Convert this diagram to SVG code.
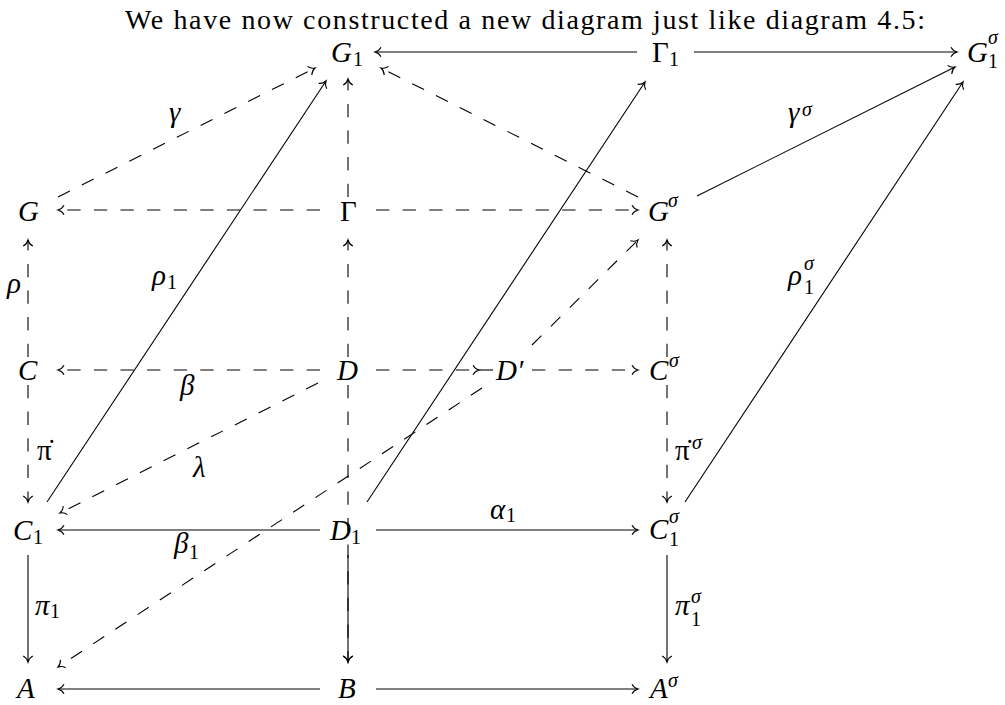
<svg xmlns="http://www.w3.org/2000/svg" width="1005" height="705" viewBox="0 0 1005 705" font-family="Liberation Serif">
<style>
.m{font-size:29px;font-style:italic;fill:#000}
.r{font-style:normal}
.s{font-size:20px;font-style:normal}
.si{font-size:20px;font-style:italic}
.e{stroke:#000;stroke-width:1.1;fill:none}
.d{stroke-dasharray:13.3 13.3}
.t{font-size:28px;fill:#000}
</style>
<defs>
<marker id="ah" markerUnits="userSpaceOnUse" markerWidth="14" markerHeight="14" viewBox="-8 -7 10 14" refX="0" refY="0" orient="auto" overflow="visible">
<path d="M-6,-4.8 C-4.5,-2 -1.5,-0.4 0,0 C-1.5,0.4 -4.5,2 -6,4.8" fill="none" stroke="#000" stroke-width="1.1"/>
</marker>
</defs>
<rect width="1005" height="705" fill="#fff"/>
<text class="t" font-family="Liberation Serif" x="125" y="29" textLength="800" lengthAdjust="spacing">We have now constructed a new diagram just like diagram 4.5:</text>

<g id="connectors">
<line class="e" x1="637" y1="52" x2="375" y2="52" marker-end="url(#ah)"/>
<line class="e" x1="694" y1="52" x2="957" y2="52" marker-end="url(#ah)"/>
<line class="e d" x1="58" y1="197" x2="315" y2="68" marker-end="url(#ah)"/>
<line class="e" x1="47" y1="502" x2="326" y2="81" marker-end="url(#ah)"/>
<line class="e d" x1="348" y1="197" x2="348" y2="79" marker-end="url(#ah)"/>
<line class="e d" x1="638" y1="197" x2="381" y2="68" marker-end="url(#ah)"/>
<line class="e" x1="367" y1="502" x2="645" y2="82" marker-end="url(#ah)"/>
<line class="e" x1="697" y1="196" x2="955" y2="67" marker-end="url(#ah)"/>
<line class="e" x1="685" y1="502" x2="963" y2="82" marker-end="url(#ah)"/>
<line class="e d" x1="320" y1="210" x2="58" y2="210" marker-end="url(#ah)"/>
<line class="e d" x1="376" y1="210" x2="638" y2="210" marker-end="url(#ah)"/>
<line class="e d" x1="28" y1="357" x2="28" y2="240" marker-end="url(#ah)"/>
<line class="e d" x1="348" y1="357" x2="348" y2="240" marker-end="url(#ah)"/>
<line class="e d" x1="532" y1="345" x2="638" y2="240" marker-end="url(#ah)"/>
<line class="e d" x1="320" y1="370" x2="58" y2="370" marker-end="url(#ah)"/>
<line class="e d" x1="376" y1="370" x2="479" y2="370" marker-end="url(#ah)"/>
<line class="e" x1="479" y1="370" x2="493" y2="370"/>
<line class="e d" x1="532" y1="370" x2="638" y2="370" marker-end="url(#ah)"/>
<line class="e d" x1="667" y1="357" x2="667" y2="240" marker-end="url(#ah)"/>
<line class="e d" x1="28" y1="385" x2="28" y2="502" marker-end="url(#ah)"/>
<line class="e d" x1="318" y1="383" x2="60" y2="513" marker-end="url(#ah)"/>
<line class="e d" x1="482" y1="388" x2="58" y2="667" marker-end="url(#ah)"/>
<line class="e d" x1="348" y1="385" x2="348" y2="662" marker-end="url(#ah)"/>
<line class="e d" x1="667" y1="385" x2="667" y2="502" marker-end="url(#ah)"/>
<line class="e" x1="28" y1="555" x2="28" y2="662" marker-end="url(#ah)"/>
<line class="e" x1="320" y1="530" x2="58" y2="530" marker-end="url(#ah)"/>
<line class="e" x1="376" y1="530" x2="638" y2="530" marker-end="url(#ah)"/>
<line class="e" x1="348" y1="555" x2="348" y2="662" marker-end="url(#ah)"/>
<line class="e" x1="320" y1="689" x2="58" y2="689" marker-end="url(#ah)"/>
<line class="e" x1="376" y1="689" x2="638" y2="689" marker-end="url(#ah)"/>
<line class="e" x1="667" y1="555" x2="667" y2="662" marker-end="url(#ah)"/>
</g>

<g id="edge-labels">
<text class="m" font-family="Liberation Serif" x="169" y="122">γ</text>
<text class="m" font-family="Liberation Serif" x="152" y="285">ρ<tspan class="s" x="167" y="289">1</tspan></text>
<text class="m" font-family="Liberation Serif" x="7" y="293">ρ</text>
<text class="m" font-family="Liberation Serif" x="180" y="395">β</text>
<text class="m r" font-family="Liberation Serif" x="37" y="460">π̇</text>
<text class="m" font-family="Liberation Serif" x="193" y="477">λ</text>
<text class="m" font-family="Liberation Serif" x="174" y="553">β<tspan class="s" x="189" y="559">1</tspan></text>
<text class="m" font-family="Liberation Serif" x="35" y="615">π<tspan class="s" x="50" y="618">1</tspan></text>
<text class="m" font-family="Liberation Serif" x="490" y="519">α<tspan class="s" x="506" y="522">1</tspan></text>
<text class="m" font-family="Liberation Serif" x="788" y="122">γ<tspan class="si" x="802" y="116">σ</tspan></text>
<text class="m" font-family="Liberation Serif" x="788" y="285">ρ<tspan class="si" x="804" y="270">σ</tspan><tspan class="s" x="804" y="294">1</tspan></text>
<text class="m r" font-family="Liberation Serif" x="675" y="460">π̇<tspan class="si" x="692" y="449">σ</tspan></text>
<text class="m" font-family="Liberation Serif" x="675" y="615">π<tspan class="si" x="691" y="603">σ</tspan><tspan class="s" x="691" y="626">1</tspan></text>
</g>

<g id="node-G1"><text class="m" font-family="Liberation Serif" x="331" y="62">G<tspan class="s" x="353" y="66">1</tspan></text></g>
<g id="node-Gamma1"><text class="m r" font-family="Liberation Serif" x="652" y="62">Γ<tspan class="s" x="669" y="66">1</tspan></text></g>
<g id="node-G1sigma"><text class="m" font-family="Liberation Serif" x="967" y="62">G<tspan class="si" x="988" y="44">σ</tspan><tspan class="s" x="988" y="68">1</tspan></text></g>
<g id="node-G"><text class="m" font-family="Liberation Serif" x="18" y="221">G</text></g>
<g id="node-Gamma"><text class="m r" font-family="Liberation Serif" x="340" y="221">Γ</text></g>
<g id="node-Gsigma"><text class="m" font-family="Liberation Serif" x="648" y="221">G<tspan class="si" x="668" y="207">σ</tspan></text></g>
<g id="node-C"><text class="m" font-family="Liberation Serif" x="18" y="380">C</text></g>
<g id="node-D"><text class="m" font-family="Liberation Serif" x="337" y="380">D</text></g>
<g id="node-Dprime"><text class="m" font-family="Liberation Serif" x="496" y="380">D′</text></g>
<g id="node-Csigma"><text class="m" font-family="Liberation Serif" x="649" y="380">C<tspan class="si" x="669" y="367">σ</tspan></text></g>
<g id="node-C1"><text class="m" font-family="Liberation Serif" x="13" y="540">C<tspan class="s" x="33" y="544">1</tspan></text></g>
<g id="node-D1"><text class="m" font-family="Liberation Serif" x="330" y="540">D<tspan class="s" x="351" y="544">1</tspan></text></g>
<g id="node-C1sigma"><text class="m" font-family="Liberation Serif" x="649" y="539">C<tspan class="si" x="669" y="523">σ</tspan><tspan class="s" x="669" y="546">1</tspan></text></g>
<g id="node-A"><text class="m" font-family="Liberation Serif" x="17" y="698">A</text></g>
<g id="node-B"><text class="m" font-family="Liberation Serif" x="338" y="698">B</text></g>
<g id="node-Asigma"><text class="m" font-family="Liberation Serif" x="650" y="698">A<tspan class="si" x="668" y="687">σ</tspan></text></g>
</svg>
